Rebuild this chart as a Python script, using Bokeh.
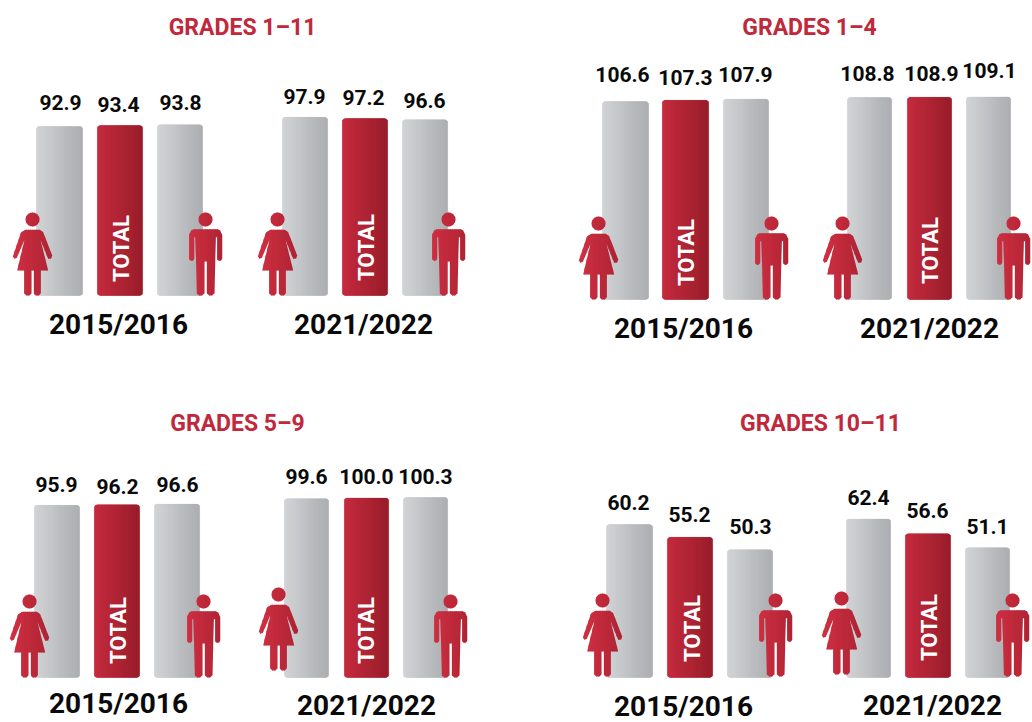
import math
from bokeh.plotting import figure
from bokeh.models import Range1d, ColumnDataSource
from bokeh.core.properties import value
from bokeh.embed import file_html
from bokeh.resources import INLINE

# ---- data ----
panels = ["GRADES 1–11", "GRADES 1–4", "GRADES 5–9", "GRADES 10–11"]
years = ["2015/2016", "2021/2022"]
groups = ["female", "total", "male"]
grades_1_11 = [[92.9, 93.4, 93.8], [97.9, 97.2, 96.6]]
grades_1_4 = [[106.6, 107.3, 107.9], [108.8, 108.9, 109.1]]
grades_5_9 = [[95.9, 96.2, 96.6], [99.6, 100.0, 100.3]]
grades_10_11 = [[60.2, 55.2, 50.3], [62.4, 56.6, 51.1]]
values = [grades_1_11, grades_1_4, grades_5_9, grades_10_11]

# ---- layout (page pixels) ----
W, H = 1032, 722
FONT = value("Roboto")
RED_TXT = "#C1283B"
layout = [
    dict(title=(242, 27), base=295, scale=1.82,
         bars=[[(36, 46), (97, 45), (157, 45)], [(282, 45), (342, 45), (402, 45)]],
         labels=[[(60, 102), (118, 104), (180, 102)], [(304, 96), (363, 97), (424, 100)]],
         year=[(118, 324), (363, 324)], total=[(121, 248), (366, 247)],
         icons=[[(32, 219), (205, 219)], [(277, 219), (448, 219)]]),
    dict(title=(809, 27), base=299, scale=1.857,
         bars=[[(602, 46), (662, 46), (723, 45)], [(847, 44), (907, 44), (966, 44)]],
         labels=[[(622, 74), (685, 77), (745, 74)], [(867, 73), (931, 73), (989, 70)]],
         year=[(683, 328), (929, 328)], total=[(686, 252), (930, 250)],
         icons=[[(598, 223), (771, 223)], [(842, 223), (1013, 223)]]),
    dict(title=(237, 423), base=677, scale=1.795,
         bars=[[(34, 45), (94, 45), (154, 45)], [(284, 44), (344, 44), (403, 44)]],
         labels=[[(56, 484), (117, 486), (177, 484)], [(306, 476), (366, 476), (425, 476)]],
         year=[(118, 703), (366, 705)], total=[(118, 630), (366, 630)],
         icons=[[(29, 601), (203, 601)], [(278, 594), (450, 601)]]),
    dict(title=(820, 423), base=677, scale=2.54,
         bars=[[(606, 46), (667, 45), (727, 45)], [(846, 44), (905, 45), (965, 44)]],
         labels=[[(628, 502), (689, 514), (750, 526)], [(868, 497), (927, 510), (987, 526)]],
         year=[(683, 706), (932, 705)], total=[(692, 628), (929, 627)],
         icons=[[(602, 600), (775, 600)], [(841, 598), (1012, 600)]]),
]

FEMALE = [(75,88),(118,88),(128,95),(155,165),(152,174),(143,175),(120,118),(143,210),(121,210),(121,278),
          (115,285),(105,285),(100,278),(100,210),(93,210),(93,278),(87,285),(77,285),(71,278),(71,210),
          (50,210),(72,118),(49,172),(42,175),(37,168),(62,95)]
FEMALE = [((x-96)/3, (y-57)/3) for x, y in FEMALE]
MALE = [(130,86),(203,86),(210,90),(216,103),(216,175),(212,181),(205,181),(201,175),(201,110),(197,110),
        (193,278),(186,285),(177,285),(170,278),(170,183),(163,183),(163,278),(156,285),(147,285),(140,278),
        (136,110),(132,110),(132,175),(128,181),(121,181),(117,175),(117,103),(123,90)]
MALE = [((x-166)/3, (y-57)/3) for x, y in MALE]
HEAD = [(7*math.cos(a*math.pi/14), 7*math.sin(a*math.pi/14)) for a in range(28)]


def lerp(c0, c1, t):
    return "#%02x%02x%02x" % tuple(round(a+(b-a)*t) for a, b in zip(c0, c1))


def clip(poly, lo, hi):
    def half(pts, keep, cross):
        out = []
        for i, p in enumerate(pts):
            q = pts[(i+1) % len(pts)]
            if keep(p):
                out.append(p)
            if keep(p) != keep(q):
                t = (cross-p[0])/(q[0]-p[0])
                out.append((cross, p[1]+t*(q[1]-p[1])))
        return out
    r = half(poly, lambda p: p[0] >= lo, lo)
    return half(r, lambda p: p[0] <= hi, hi) if r else r


p = figure(width=W, height=H, output_backend="svg", toolbar_location=None,
           x_range=Range1d(0, W), y_range=Range1d(H, 0),
           min_border=0, outline_line_color=None)
p.xaxis.visible = False
p.yaxis.visible = False
p.grid.visible = False

GREY0, GREY1 = (212, 214, 216), (172, 174, 177)
RED0, RED1 = (200, 46, 64), (152, 30, 45)
R = 3

for k, (name, L) in enumerate(zip(panels, layout)):
    rn = f"v{k}"
    s, b = L["scale"], L["base"]
    p.extra_y_ranges[rn] = Range1d((b-H)/s, b/s)
    xs, tops, bots, cols = [], [], [], []
    bx, bw, bt, bc = [], [], [], []
    for yi in range(2):
        for g in range(3):
            x0, w = L["bars"][yi][g]
            v = values[k][yi][g]
            c0, c1 = (RED0, RED1) if g == 1 else (GREY0, GREY1)
            bx.append(x0+w/2); bw.append(w); bt.append(v); bc.append(lerp(c0, c1, .5))
            for i in range(w):
                d = min(i, w-1-i)
                inset = R-math.sqrt(R*R-(R-d-.5)**2) if d < R else 0
                xs.append(x0+i+.5)
                tops.append(v-inset/s)
                bots.append(inset/s)
                cols.append(lerp(c0, c1, i/(w-1)))
    p.vbar(x=bx, width=bw, top=bt, bottom=0, fill_color=bc, fill_alpha=1.0, line_color=None,
           border_radius=R, y_range_name=rn)
    src = ColumnDataSource(dict(x=xs, top=tops, bottom=bots, fc=cols))
    p.vbar(x="x", width=1.3, top="top", bottom="bottom", fill_color="fc", fill_alpha=1.0, line_color="fc",
           line_width=0.2, line_alpha=1.0, source=src, y_range_name=rn)

    # icons
    px, py, pc = [], [], []
    for yi in range(2):
        for shape_set, (hx, hy) in zip(((HEAD, FEMALE), (HEAD, MALE)), L["icons"][yi]):
            for shape in shape_set:
                for j in range(-20, 20, 2):
                    piece = clip(shape, j, j+2.6)
                    if len(piece) >= 3:
                        px.append([hx+q[0] for q in piece])
                        py.append([hy+q[1] for q in piece])
                        pc.append(lerp((208, 48, 66), (172, 34, 50), (j+20)/40))
    p.patches(px, py, fill_color=pc, fill_alpha=1.0, line_color=None)

    # title
    p.text([L["title"][0]], [L["title"][1]], text=[name], text_font=FONT, text_font_style="bold",
           text_font_size="23px", text_color=RED_TXT, text_align="center", text_baseline="middle")
    # value labels
    lx = [q[0] for row in L["labels"] for q in row]
    ly = [q[1] for row in L["labels"] for q in row]
    lt = [f"{v:.1f}" for row in values[k] for v in row]
    p.text(lx, ly, text=lt, text_font=FONT, text_font_style="bold", text_font_size="21px",
           text_color="#0A0A0A", text_align="center", text_baseline="middle")
    # year labels
    p.text([q[0] for q in L["year"]], [q[1] for q in L["year"]], text=years, text_font=FONT,
           text_font_style="bold", text_font_size="28px", text_color="#0A0A0A",
           text_align="center", text_baseline="middle")
    # TOTAL
    p.text([q[0] for q in L["total"]], [q[1] for q in L["total"]], text=["TOTAL", "TOTAL"], angle=math.pi/2,
           text_font=FONT, text_font_style="bold", text_font_size="22px", text_color="white",
           text_align="center", text_baseline="middle")

open("out.html", "w").write(file_html(p, INLINE))
